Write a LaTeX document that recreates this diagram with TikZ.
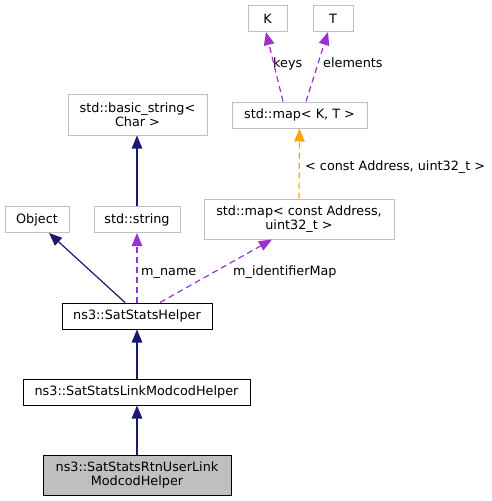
\documentclass[tikz,border=0pt]{standalone}
\usepackage{fontspec}
\setmainfont{DejaVu Sans}
\usetikzlibrary{arrows.meta, positioning}
\definecolor{edgeblue}{HTML}{191970}
\definecolor{edgepurple}{HTML}{9A32CD}
\definecolor{edgeorange}{HTML}{FFA500}
\definecolor{boxgrey}{HTML}{BFBFBF}

\begin{document}
\begin{tikzpicture}[
  x=1pt, y=-1pt,
  font=\fontsize{12.8}{14.2}\selectfont,
  class/.style={rectangle, draw=boxgrey, line width=1pt, fill=white, minimum height=26pt, inner sep=0pt, align=center},
  member/.style={class, draw=black},
  current/.style={class, draw=black, fill=boxgrey, minimum height=40pt},
  inherit/.style={-{Triangle[length=13pt, width=10.5pt]}, edgeblue, line width=1.2pt},
  usage/.style={-{Triangle[length=13pt, width=10.5pt]}, edgepurple, line width=1.2pt, dash pattern=on 6pt off 4pt},
  templ/.style={-{Triangle[length=13pt, width=10.5pt]}, edgeorange, line width=1.2pt, dash pattern=on 6pt off 4pt},
  lbl/.style={anchor=base west, inner sep=0pt}
]
  \useasboundingbox (0,0) rectangle (492,501);

  % Template arguments
  \node[class, minimum width=39pt] (keyk) at (267.5,18.5) {K};
  \node[class, minimum width=40pt] (elemt) at (333,18.5) {T};
  \node[class, minimum width=135pt] (mapkt) at (299.5,115) {std::map< K, T >};
  \node[class, minimum width=190pt, minimum height=40pt] (mapaddr) at (299,219) {std::map< const Address,\\uint32\_t >};

  % Strings and base
  \node[class, minimum width=139pt, minimum height=41pt] (basicstr) at (137.5,114.5) {std::basic\_string<\\Char >};
  \node[class, minimum width=64pt] (object) at (37,219.5) {Object};
  \node[class, minimum width=86pt] (stdstr) at (137,219.5) {std::string};

  % Helpers
  \node[member, minimum width=150pt] (helper) at (137,316) {ns3::SatStatsHelper};
  \node[member, minimum width=227pt] (linkhelper) at (136.5,392) {ns3::SatStatsLinkModcodHelper};
  \node[current, minimum width=188pt] (rtnhelper) at (137,475) {ns3::SatStatsRtnUserLink\\ModcodHelper};

  % Arrows
  \draw[usage] ([xshift=-16.5pt]mapkt.north) -- ([xshift=-1.5pt]keyk.south);
  \draw[usage] ([xshift=6.5pt]mapkt.north) -- ([xshift=-5pt]elemt.south);
  \draw[templ] (mapaddr.north) -- (mapkt.south);
  \draw[inherit] (stdstr.north) -- ([xshift=-0.5pt]basicstr.south);
  \draw[inherit] ([xshift=-12pt]helper.north) -- ([xshift=12pt]object.south);
  \draw[usage] (helper.north) -- (stdstr.south);
  \draw[usage] ([xshift=23pt]helper.north) -- ([xshift=-27pt]mapaddr.south);
  \draw[inherit] ([xshift=0.5pt]linkhelper.north) -- (helper.south);
  \draw[inherit] (rtnhelper.north) -- ([xshift=0.5pt]linkhelper.south);

  % Labels
  \node[lbl] (lkeys) at (273,67) {keys};
  \node[lbl] (lelems) at (323,67) {elements};
  \node[lbl] (ltempl) at (305,170.5) {< const Address, uint32\_t >};
  \node[lbl] (lname) at (141,275.5) {m\_name};
  \node[lbl] (lidmap) at (233,275.5) {m\_identifierMap};
\end{tikzpicture}
\end{document}
